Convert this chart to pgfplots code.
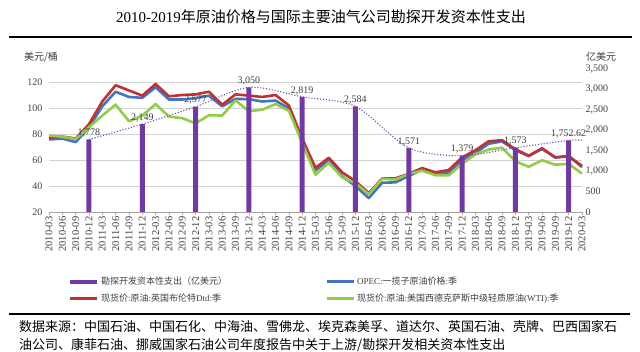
\documentclass[border=0pt]{standalone}
\usepackage{pgfplots}
\usepackage{pgfplotstable}
\pgfplotsset{compat=1.18}
\usepackage{fontspec}
\setmainfont{Liberation Serif}
\newfontfamily\cjk{Noto Sans CJK SC}
\newcommand{\zh}[1]{{\cjk #1}}
\definecolor{barpurple}{RGB}{112,58,160}
\definecolor{trendc}{RGB}{100,80,190}
\definecolor{oblue}{RGB}{68,114,196}
\definecolor{bred}{RGB}{192,50,50}
\definecolor{wgreen}{RGB}{146,204,72}
\definecolor{txtgray}{RGB}{64,64,64}

\pgfplotstableread{
x brent opec wti
0 77 75.8 78.8
1 78 76.5 77.9
2 76.5 73.8 76.1
3 87.5 85 85.2
4 105 101.3 94.1
5 117.5 112.5 102.6
6 113.5 108.5 89.8
7 109.5 107.8 94.1
8 118.5 116 103
9 109 106.5 93.4
10 110 106.5 92.2
11 110.5 107.5 88.2
12 112.5 109.5 94.4
13 102.5 101.3 94.2
14 110.5 107 105.8
15 109.5 106.8 97.5
16 108.5 105 98.7
17 110 105.7 103
18 102 99.7 97.9
19 76.5 74 73.2
20 54 52 48.6
21 61.7 59.8 57.9
22 50.5 47.5 46.5
23 43.7 40 42.2
24 34.5 30.7 33.6
25 45.8 42.5 45.6
26 45.9 42.8 44.9
27 49.4 47.7 49.3
28 53.8 52.5 51.8
29 50.5 48.7 48.3
30 52.3 50.5 48.2
31 62 60 57
32 67.5 65.5 64.5
33 74.4 72.5 68
34 75.2 74.3 69.5
35 68.3 67.5 59
36 63.3 63 54.8
37 69 68.5 59.8
38 62.1 61.8 56.4
39 62.8 63.3 57
40 55.5 54.5 49.5
}\prices

\pgfplotstableread{
x capex label
3 1778 1,778
7 2149 2,149
11 2577 2,577
15 3050 3,050
19 2819 2,819
23 2584 2,584
27 1571 1,571
31 1379 1,379
35 1573 1,573
39 1752.62 1,752.62
}\capex

\pgfplotstableread{
x capex
3 1778
7 2149
11 2577
15 3050
19 2819
23 2584
27 1571
31 1379
35 1573
39 1752.62
40 1752.62
}\trend

\begin{document}
\begin{tikzpicture}
\useasboundingbox (-49pt,212pt) rectangle (591pt,-140pt);
\node[font=\fontsize{15}{17}\selectfont] at (272pt,195pt) {2010-2019\zh{年原油价格与国际主要油气公司勘探开发资本性支出}};
\draw[line width=2.5pt] (-40pt,175pt) -- (583pt,175pt);
\node[font=\fontsize{10}{12}\selectfont\cjk, text=txtgray] at (-8pt,155pt) {美元/桶};
\node[font=\fontsize{10}{12}\selectfont\cjk, text=txtgray] at (552pt,155pt) {亿美元};

\begin{axis}[
  scale only axis,
  width=533pt, height=143pt,
  xmin=0, xmax=40, ymin=20, ymax=130,
  ytick={20,40,...,120},
  ymajorgrids, grid style={gray!35, line width=0.8pt},
  axis x line*=bottom, axis y line*=left,
  y axis line style={draw=none},
  x axis line style={gray!70, line width=0.8pt},
  xtick={0,...,40},
  xticklabels={2010-03,2010-06,2010-09,2010-12,2011-03,2011-06,2011-09,2011-12,2012-03,2012-06,2012-09,2012-12,2013-03,2013-06,2013-09,2013-12,2014-03,2014-06,2014-09,2014-12,2015-03,2015-06,2015-09,2015-12,2016-03,2016-06,2016-09,2016-12,2017-03,2017-06,2017-09,2017-12,2018-03,2018-06,2018-09,2018-12,2019-03,2019-06,2019-09,2019-12,2020-03},
  xticklabel style={rotate=90, anchor=east, font=\fontsize{10.5}{11}\selectfont, text=txtgray, inner sep=1.5pt},
  x tick style={gray!70, line width=0.6pt},
  xtick align=outside, major tick length=3pt,
  y tick style={draw=none},
  yticklabel style={font=\fontsize{10}{12}\selectfont, text=txtgray, xshift=-3pt},
  /pgf/number format/assume math mode=true,
  clip=false,
]
\addplot[oblue, line width=2.6pt, line join=round] table[x=x,y=opec]{\prices};
\addplot[bred, line width=2.6pt, line join=round] table[x=x,y=brent]{\prices};
\addplot[wgreen, line width=2.6pt, line join=round] table[x=x,y=wti]{\prices};
\end{axis}

\begin{axis}[
  scale only axis,
  width=533pt, height=143pt,
  xmin=0, xmax=40, ymin=0, ymax=3500,
  ytick={0,500,...,3500},
  axis x line=none, axis y line*=right,
  y axis line style={draw=none},
  y tick style={draw=none},
  yticklabel style={font=\fontsize{10}{12}\selectfont, text=txtgray, /pgf/number format/1000 sep={,}},
  /pgf/number format/assume math mode=true,
  clip=false,
  legend columns=2,
  legend image code/.code={\draw[#1] (0pt,0pt) -- (27pt,0pt);},
  legend style={at={(axis description cs:0.0356,-0.44)}, anchor=north west, draw=none, fill=none,
     inner sep=0pt, font=\fontsize{9}{11}\selectfont, text=txtgray, row sep=4pt,
     cells={anchor=west}},
]
\addplot[ybar, bar width=5pt, fill=barpurple, draw=none,
  nodes near coords, point meta=explicit symbolic,
  nodes near coords style={font=\fontsize{10}{12}\selectfont, text=txtgray, anchor=south, inner sep=2pt},
  forget plot] table[x=x,y=capex,meta=label]{\capex};
\addplot[trendc, line width=1.1pt, dash pattern=on 1.1pt off 1.8pt, smooth, forget plot] table[x=x,y=capex]{\trend};
\addlegendimage{barpurple, line width=4pt}
\addlegendentry{\makebox[222pt][l]{\zh{勘探开发资本性支出（亿美元）}}}
\addlegendimage{oblue, line width=3pt}
\addlegendentry{OPEC:\zh{一揽子原油价格}:\zh{季}}
\addlegendimage{bred, line width=3pt}
\addlegendentry{\makebox[222pt][l]{\zh{现货价}:\zh{原油}:\zh{英国布伦特}Dtd:\zh{季}}}
\addlegendimage{wgreen, line width=3pt}
\addlegendentry{\zh{现货价}:\zh{原油}:\zh{美国西德克萨斯中级轻质原油}(WTI):\zh{季}}
\end{axis}

\draw[line width=2.5pt] (-40pt,-102pt) -- (581pt,-102pt);
\node[anchor=west, font=\fontsize{13}{15}\selectfont\cjk, inner sep=0pt] at (-30pt,-115pt) {数据来源：中国石油、中国石化、中海油、雪佛龙、埃克森美孚、道达尔、英国石油、壳牌、巴西国家石};
\node[anchor=west, font=\fontsize{13}{15}\selectfont\cjk, inner sep=0pt] at (-30pt,-133pt) {油公司、康菲石油、挪威国家石油公司年度报告中关于上游/勘探开发相关资本性支出};
\end{tikzpicture}
\end{document}
